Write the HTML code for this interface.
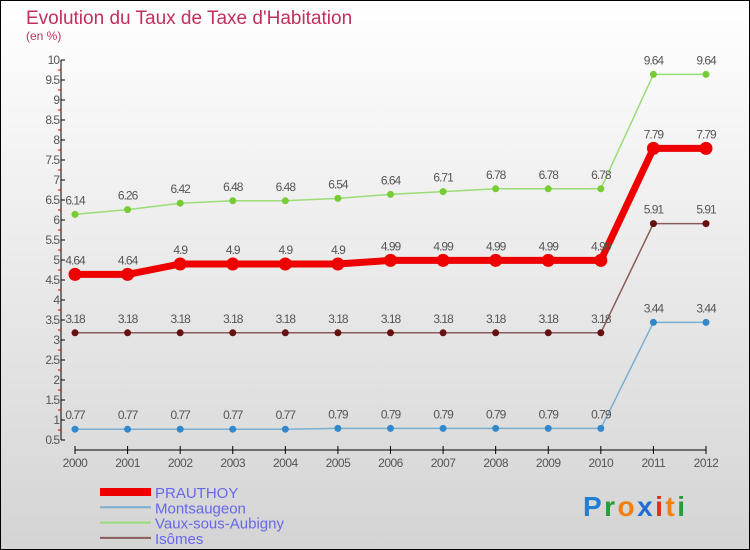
<!DOCTYPE html>
<html><head><meta charset="utf-8"><style>
body{margin:0}
svg{display:block;font-family:"Liberation Sans",sans-serif}
</style></head><body>
<svg width="750" height="550" viewBox="0 0 750 550" xmlns="http://www.w3.org/2000/svg">
<defs><linearGradient id="bg" x1="0" y1="0" x2="0" y2="1"><stop offset="0" stop-color="#ffffff"/><stop offset="1" stop-color="#d4d4d4"/></linearGradient></defs>
<rect x="0.5" y="0.5" width="749" height="549" fill="url(#bg)" stroke="#000"/>
<text x="26" y="24" font-size="19" fill="#c0305a">Evolution du Taux de Taxe d'Habitation</text>
<text x="26" y="40" font-size="12" fill="#c0305a">(en %)</text>
<g id="axes"></g><g id="series"></g><g id="legend"></g>
<text x="583" y="516" font-size="28" font-weight="bold" textLength="102" lengthAdjust="spacing"><tspan fill="#1e7fd6">P</tspan><tspan fill="#2a9a3a">r</tspan><tspan fill="#f08010">o</tspan><tspan fill="#1e6fd0">x</tspan><tspan fill="#e03010">i</tspan><tspan fill="#f08010">t</tspan><tspan fill="#2a9a3a">i</tspan></text>
</svg>
<script>
const years=[2000,2001,2002,2003,2004,2005,2006,2007,2008,2009,2010,2011,2012];
const yTicks=[0.5,1,1.5,2,2.5,3,3.5,4,4.5,5,5.5,6,6.5,7,7.5,8,8.5,9,9.5,10];
const seriesNames=["PRAUTHOY","Montsaugeon","Vaux-sous-Aubigny","Isômes"];
const prauthoy=[4.64,4.64,4.9,4.9,4.9,4.9,4.99,4.99,4.99,4.99,4.99,7.79,7.79];
const montsaugeon=[0.77,0.77,0.77,0.77,0.77,0.79,0.79,0.79,0.79,0.79,0.79,3.44,3.44];
const vaux=[6.14,6.26,6.42,6.48,6.48,6.54,6.64,6.71,6.78,6.78,6.78,9.64,9.64];
const isomes=[3.18,3.18,3.18,3.18,3.18,3.18,3.18,3.18,3.18,3.18,3.18,5.91,5.91];
const NS="http://www.w3.org/2000/svg";
const xs=i=>75+i*(706-75)/12;
const ys=v=>60+(10-v)*40;
const fmt=v=>String(v);
function mk(tag,attrs,parent,txt){const e=document.createElementNS(NS,tag);for(const k in attrs)e.setAttribute(k,attrs[k]);if(txt!==undefined)e.textContent=txt;parent.appendChild(e);return e;}
const axes=document.getElementById('axes');
let yl=mk('line',{x1:61,y1:60,x2:61,y2:440,stroke:'#000'},axes);


yTicks.forEach(v=>{
 const y=ys(v);
 mk('line',{x1:61,y1:y,x2:65,y2:y,stroke:'#000'},axes);
 if(v<10) mk('line',{x1:58,y1:y-10,x2:61,y2:y-10,stroke:'#e00000'},axes);
 const t=mk('text',{x:59,y:y+4,'font-size':12,fill:'#555','text-anchor':'end','letter-spacing':'-1'},axes,fmt(v));
 
 
});
let xl=mk('line',{x1:75,y1:450,x2:706,y2:450,stroke:'#000'},axes);


years.forEach((yr,i)=>{
 mk('line',{x1:xs(i),y1:446,x2:xs(i),y2:454,stroke:'#000'},axes);
 const t=mk('text',{x:xs(i),y:467,'font-size':12,fill:'#555','text-anchor':'middle','letter-spacing':'-0.5'},axes,yr);
 
 
});
const sg=document.getElementById('series');
function drawSeries(vals,color,w,r,dot,name){
 const g=mk('g',{},sg);
 
 
 mk('polyline',{points:vals.map((v,i)=>xs(i)+','+ys(v)).join(' '),fill:'none',stroke:color,'stroke-width':w,'stroke-linejoin':'round'},g);
 vals.forEach((v,i)=>{
  const c=mk('circle',{cx:xs(i),cy:ys(v),r:r,fill:dot},g);
  
  
  mk('text',{x:xs(i),y:ys(v)-10,'font-size':12,fill:'#555','text-anchor':'middle','letter-spacing':'-1'},g,fmt(v));
 });
}
drawSeries(vaux,'#99dd77',1.5,3.5,'#77cc33','vaux-series');
drawSeries(isomes,'#8b5a5a',1.5,3.5,'#661111','isomes-series');
drawSeries(montsaugeon,'#7aaed0',1.5,3.5,'#3388cc','montsaugeon-series');
drawSeries(prauthoy,'#ee0000',7,6.5,'#ee0000','prauthoy-series');
const lg=document.getElementById('legend');
const lcol=['#ee0000','#7aaed0','#99dd77','#8b5a5a'];const lw=[8,2,2,2];
seriesNames.forEach((n,i)=>{
 const y=492+i*15.3;
 const g=mk('g',{},lg);
 
 
 mk('line',{x1:100,y1:y,x2:151,y2:y,stroke:lcol[i],'stroke-width':lw[i]},g);
 mk('text',{x:155,y:y+6,'font-size':15,fill:'#6666ee'},g,n);
});
</script>
</body></html>
